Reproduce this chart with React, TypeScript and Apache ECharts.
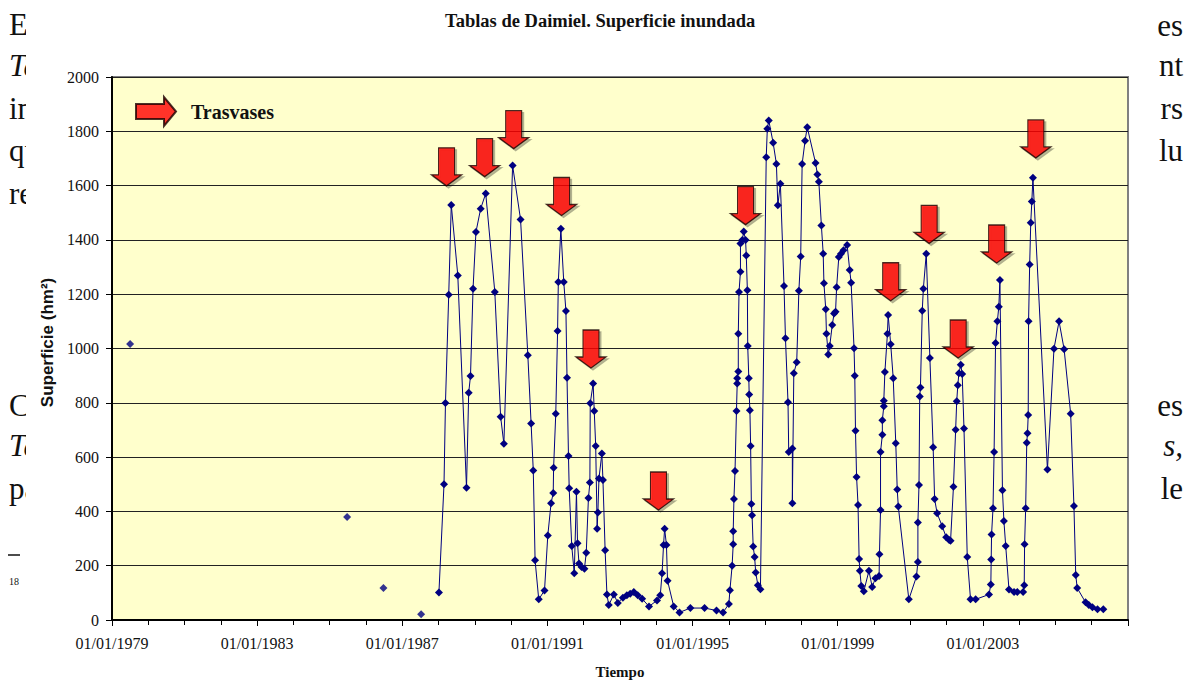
import React, { useEffect, useRef } from "react";
import * as echarts from "echarts";

const BASE_YEAR = 1979;
const LABEL_YEARS = [1979, 1983, 1987, 1991, 1995, 1999, 2003];
const Y_TICKS = [0, 200, 400, 600, 800, 1000, 1200, 1400, 1600, 1800, 2000];

// isolated (unconnected) early measurements: decimal year / hm²
const isolatedDates = [1979.5, 1985.48, 1986.48, 1987.52];
const isolatedValues = [1017, 379, 118, 21];

// continuous series: decimal year / hm²
const dates = [
  1988.01, 1988.15, 1988.19, 1988.28, 1988.35, 1988.53, 1988.77, 1988.83, 1988.88, 1988.95,
  1989.03, 1989.16, 1989.3, 1989.55, 1989.71, 1989.8, 1990.04, 1990.26, 1990.46, 1990.55,
  1990.61, 1990.66, 1990.76, 1990.92, 1991.01, 1991.1, 1991.16, 1991.17, 1991.23, 1991.28,
  1991.3, 1991.37, 1991.45, 1991.51, 1991.54, 1991.58, 1991.6, 1991.67, 1991.74, 1991.8,
  1991.83, 1991.87, 1991.94, 1992.02, 1992.07, 1992.13, 1992.17, 1992.18, 1992.26, 1992.29,
  1992.33, 1992.37, 1992.39, 1992.42, 1992.5, 1992.53, 1992.59, 1992.64, 1992.69, 1992.83,
  1992.94, 1993.08, 1993.19, 1993.28, 1993.38, 1993.49, 1993.61, 1993.8, 1994.02, 1994.11,
  1994.16, 1994.2, 1994.23, 1994.28, 1994.31, 1994.48, 1994.64, 1994.94, 1995.33, 1995.66,
  1995.84, 1996.0, 1996.03, 1996.09, 1996.12, 1996.12, 1996.14, 1996.17, 1996.21, 1996.23,
  1996.23, 1996.26, 1996.26, 1996.28, 1996.32, 1996.32, 1996.37, 1996.41, 1996.46, 1996.48,
  1996.51, 1996.52, 1996.55, 1996.56, 1996.58, 1996.6, 1996.62, 1996.64, 1996.67, 1996.71,
  1996.74, 1996.8, 1996.87, 1997.03, 1997.06, 1997.1, 1997.22, 1997.31, 1997.35, 1997.42,
  1997.52, 1997.56, 1997.63, 1997.65, 1997.75, 1997.75, 1997.79, 1997.87, 1997.93, 1997.98,
  1998.02, 1998.1, 1998.16, 1998.39, 1998.44, 1998.48, 1998.55, 1998.6, 1998.62, 1998.67,
  1998.69, 1998.74, 1998.78, 1998.85, 1998.9, 1998.94, 1998.97, 1999.03, 1999.09, 1999.16,
  1999.26, 1999.33, 1999.37, 1999.45, 1999.47, 1999.49, 1999.52, 1999.56, 1999.59, 1999.61,
  1999.65, 1999.72, 1999.86, 1999.95, 2000.04, 2000.14, 2000.15, 2000.18, 2000.18, 2000.23,
  2000.23, 2000.27, 2000.27, 2000.3, 2000.37, 2000.39, 2000.46, 2000.53, 2000.6, 2000.64,
  2000.67, 2000.96, 2001.17, 2001.21, 2001.21, 2001.24, 2001.26, 2001.28, 2001.33, 2001.36,
  2001.44, 2001.54, 2001.63, 2001.67, 2001.74, 2001.88, 2001.99, 2002.07, 2002.11, 2002.19,
  2002.25, 2002.28, 2002.31, 2002.34, 2002.39, 2002.43, 2002.48, 2002.57, 2002.66, 2002.8,
  2003.17, 2003.22, 2003.23, 2003.24, 2003.28, 2003.31, 2003.35, 2003.4, 2003.44, 2003.47,
  2003.54, 2003.58, 2003.63, 2003.72, 2003.86, 2003.95, 2004.11, 2004.14, 2004.15, 2004.18,
  2004.21, 2004.23, 2004.25, 2004.26, 2004.29, 2004.32, 2004.35, 2004.38, 2004.78, 2004.96,
  2005.1, 2005.24, 2005.42, 2005.51, 2005.56, 2005.6, 2005.83, 2005.92, 2006.02, 2006.16,
  2006.32,
];
const values = [
  101, 500, 799, 1198, 1529, 1269, 487, 837, 899, 1220,
  1429, 1515, 1571, 1208, 749, 649, 1674, 1475, 975, 724,
  551, 220, 76, 109, 311, 430, 468, 561, 760, 1064,
  1245, 1441, 1245, 1138, 892, 604, 485, 273, 172, 472,
  283, 208, 195, 189, 248, 449, 506, 798, 871, 770,
  641, 336, 396, 521, 613, 516, 257, 94, 55, 94,
  63, 82, 91, 97, 103, 91, 78, 50, 72, 91,
  172, 276, 336, 276, 145, 50, 28, 44, 44, 35,
  28, 59, 110, 200, 279, 327, 446, 549, 770, 871,
  890, 915, 1054, 1208, 1283, 1387, 1400, 1431, 1400, 1343,
  1215, 1009, 890, 831, 773, 641, 427, 386, 271, 232,
  175, 128, 113, 1704, 1809, 1840, 1758, 1680, 1528, 1607,
  1230, 1038, 802, 619, 632, 430, 909, 949, 1213, 1339,
  1680, 1765, 1815, 1683, 1641, 1614, 1453, 1349, 1240, 1145,
  1054, 978, 1009, 1087, 1129, 1135, 1226, 1337, 1349, 1362,
  1381, 1289, 1242, 1001, 900, 697, 527, 424, 225, 181,
  125, 106, 181, 122, 154, 162, 242, 405, 619, 682,
  736, 787, 808, 913, 1054, 1123, 1016, 890, 651, 481,
  418, 76, 160, 214, 359, 497, 823, 856, 1139, 1220,
  1349, 965, 636, 446, 393, 345, 305, 295, 292, 491,
  701, 806, 865, 909, 940, 906, 705, 232, 76, 76,
  94, 131, 223, 315, 412, 619, 1020, 1100, 1154, 1252,
  478, 365, 273, 112, 103, 103, 103, 128, 279, 412,
  653, 688, 755, 1100, 1309, 1463, 1541, 1629, 554, 999,
  1100, 997, 760, 420, 166, 118, 65, 55, 47, 40,
  40,
];

// "Trasvases" (water transfers): decimal year / value at arrow tip
const transferDates = [1988.22, 1989.27, 1990.07, 1991.39, 1992.2, 1994.06, 1996.46, 2000.46, 2001.52, 2002.32, 2003.38, 2004.46];
const transferTips = [1599, 1633, 1736, 1490, 928, 405, 1456, 1176, 1387, 965, 1315, 1702];

const SERIF = '"Liberation Serif", "Times New Roman", serif';
const SANS = '"Liberation Sans", Arial, sans-serif';

const DOWN_ARROW = "path://M7,0L23,0L23,27L30,27L15,38L0,27L7,27Z";
const RIGHT_ARROW = "path://M0,7L28,7L28,0L40,14.5L28,29L28,22L0,22Z";

function pageText(text: string, x: number, y: number, align: string, italic = false, size = 31) {
  return {
    type: "text",
    z: -2,
    silent: true,
    style: {
      text,
      x,
      y,
      align,
      verticalAlign: "middle",
      fontFamily: SERIF,
      fontSize: size,
      fontStyle: italic ? "italic" : "normal",
      fill: "#111",
    },
  };
}

export default function App() {
  const ref = useRef<HTMLDivElement>(null);

  useEffect(() => {
    if (!ref.current) return;
    const chart = echarts.init(ref.current, undefined, { renderer: "svg" });

    const lineData = dates.map((d, i) => [d - BASE_YEAR, values[i]]);
    const isoData = isolatedDates.map((d, i) => [d - BASE_YEAR, isolatedValues[i]]);
    const arrowData = transferDates.map((d, i) => [d - BASE_YEAR, transferTips[i]]);

    const option = {
      animation: false,
      title: {
        text: "Tablas de Daimiel. Superficie inundada",
        left: 445,
        top: 11,
        padding: 0,
        textStyle: { fontFamily: SERIF, fontWeight: "bold", fontSize: 18.5, color: "#111" },
      },
      legend: {
        data: [{ name: "Trasvases", icon: RIGHT_ARROW }],
        left: 135,
        top: 96,
        padding: 0,
        itemWidth: 40,
        itemHeight: 29,
        selectedMode: false,
        textStyle: { fontFamily: SERIF, fontWeight: "bold", fontSize: 20, color: "#111", padding: [5, 0, 0, 10] },
      },
      grid: {
        left: 112,
        right: 64,
        top: 77,
        bottom: 60,
        show: true,
        backgroundColor: "#FFFFCC",
        borderColor: "#808080",
        borderWidth: 2,
      },
      xAxis: {
        type: "value",
        min: 0,
        max: 28,
        interval: 4,
        name: "Tiempo",
        nameLocation: "middle",
        nameGap: 44,
        nameTextStyle: { fontFamily: SERIF, fontWeight: "bold", fontSize: 15, color: "#111" },
        axisLine: { lineStyle: { color: "#000", width: 2 } },
        axisTick: { show: true, length: 6, lineStyle: { color: "#000", width: 1 } },
        minorTick: { show: true, splitNumber: 4, length: 5, lineStyle: { color: "#000", width: 1 } },
        splitLine: { show: false },
        axisLabel: {
          margin: 15,
          fontFamily: SERIF,
          fontSize: 16,
          color: "#111",
          formatter: (v: number) => (LABEL_YEARS.includes(BASE_YEAR + v) ? `01/01/${BASE_YEAR + v}` : ""),
        },
      },
      yAxis: {
        type: "value",
        min: Y_TICKS[0],
        max: Y_TICKS[Y_TICKS.length - 1],
        interval: 200,
        name: "Superficie (hm²)",
        nameLocation: "middle",
        nameGap: 54,
        nameTextStyle: { fontFamily: SANS, fontWeight: "bold", fontSize: 17, color: "#111", padding: [0, 0, 0, 12] },
        axisLine: { show: true, lineStyle: { color: "#000", width: 2 } },
        axisTick: { show: true, length: 6, lineStyle: { color: "#000", width: 1 } },
        splitLine: { show: true, lineStyle: { color: "#222", width: 1 } },
        axisLabel: {
          margin: 13,
          fontFamily: SERIF,
          fontSize: 16,
          color: "#111",
          formatter: (v: number) => String(v),
        },
      },
      series: [
        {
          name: "Superficie",
          type: "line",
          data: lineData,
          symbol: "diamond",
          symbolSize: 8,
          itemStyle: { color: "#000080" },
          lineStyle: { color: "#000080", width: 1 },
          z: 3,
        },
        {
          name: "Superficie aislada",
          type: "scatter",
          data: isoData,
          symbol: "diamond",
          symbolSize: 8,
          itemStyle: { color: "#000080" },
          z: 3,
        },
        {
          name: "Trasvases",
          type: "scatter",
          data: arrowData,
          symbol: DOWN_ARROW,
          symbolSize: [30, 38],
          symbolOffset: [0, -19],
          itemStyle: {
            color: "#ff0000",
            borderColor: "#1a0000",
            borderWidth: 1.2,
            shadowColor: "rgba(0,0,0,0.35)",
            shadowOffsetX: 2,
            shadowOffsetY: 2,
            shadowBlur: 1,
          },
          z: 5,
        },
      ],
      graphic: [
        pageText("Ei", 9, 24, "left"),
        pageText("Ta", 9, 65, "left", true),
        pageText("in", 9, 108, "left"),
        pageText("qu", 9, 150, "left"),
        pageText("re", 9, 193, "left"),
        pageText("Co", 9, 405, "left"),
        pageText("Ta", 9, 445, "left", true),
        pageText("pa", 9, 488, "left"),
        {
          type: "line",
          z: -2,
          silent: true,
          shape: { x1: 8, y1: 555, x2: 20, y2: 555 },
          style: { stroke: "#111", lineWidth: 1.5 },
        },
        pageText("18", 9, 581, "left", false, 10),
        pageText("es", 1183, 25, "right"),
        pageText("nt", 1183, 65, "right"),
        pageText("rs", 1183, 108, "right"),
        pageText("lu", 1183, 150, "right"),
        pageText("es", 1183, 405, "right"),
        pageText("s,", 1183, 445, "right", true),
        pageText("le", 1183, 488, "right"),
        {
          type: "rect",
          z: -1,
          silent: true,
          shape: { x: 26, y: 0, width: 1128, height: 684 },
          style: { fill: "#ffffff" },
        },
      ],
    };

    chart.setOption(option as any);
    return () => chart.dispose();
  }, []);

  return <div ref={ref} style={{ position: "absolute", left: 0, top: 0, width: 1192, height: 684 }} />;
}
